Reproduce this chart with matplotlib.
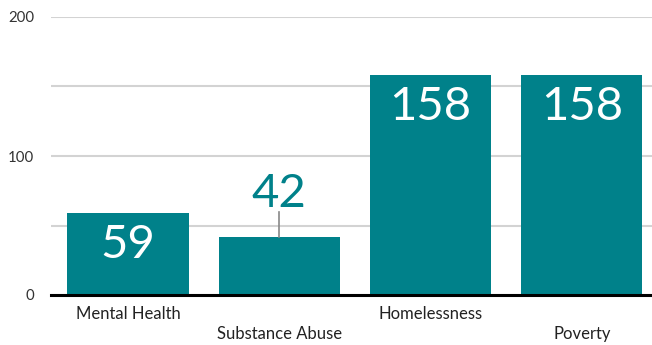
import matplotlib.pyplot as plt

categories = ["Mental Health", "Substance Abuse", "Homelessness", "Poverty"]
counts = [59, 42, 158, 158]
yticks = [0, 100, 200]

teal = "#00818a"
plt.rcParams['font.family'] = ['Lato', 'DejaVu Sans']

fig = plt.figure(figsize=(6.52, 3.45), dpi=100)
ax = fig.add_axes([51 / 652, 1 - 295 / 345, 601 / 652, (295 - 17) / 345])

x = range(len(categories))
bars = ax.bar(x, counts, width=0.8, color=teal, zorder=2)

ax.set_xlim(-0.509, 3.463)
ax.set_ylim(0, 200)
ax.set_yticks(yticks)
ax.set_yticks([50, 150], minor=True)
ax.tick_params(axis='y', which='both', length=0, labelsize=10.8, colors='#333333', pad=12)
ax.grid(axis='y', which='both', color='#d3d3d3', linewidth=1.5, zorder=0)
for s in ['top', 'right', 'left']:
    ax.spines[s].set_visible(False)
ax.spines['bottom'].set_linewidth(2.2)
ax.spines['bottom'].set_zorder(3)

# category labels alternate between two rows
ax.set_xticks([])
for i, name in enumerate(categories):
    dy = -19 if i % 2 == 0 else -39
    ax.annotate(name, (i, 0), xytext=(0, dy), textcoords='offset pixels',
                ha='center', va='center', fontsize=12, color='#222222')

# value labels: inside tall bars, above short bar with a leader line
for i, v in enumerate(counts):
    if v >= 50:
        ax.annotate(str(v), (i, v), xytext=(0, -32), textcoords='offset pixels',
                    ha='center', va='center', fontsize=34, color='white')
    else:
        ax.plot([i, i], [v, v + 17.5], color='#888888', linewidth=1.2, zorder=3)
        ax.annotate(str(v), (i, v + 17.5), xytext=(0, 18), textcoords='offset pixels',
                    ha='center', va='center', fontsize=34, color=teal)

fig.savefig("out.png", dpi=100)
